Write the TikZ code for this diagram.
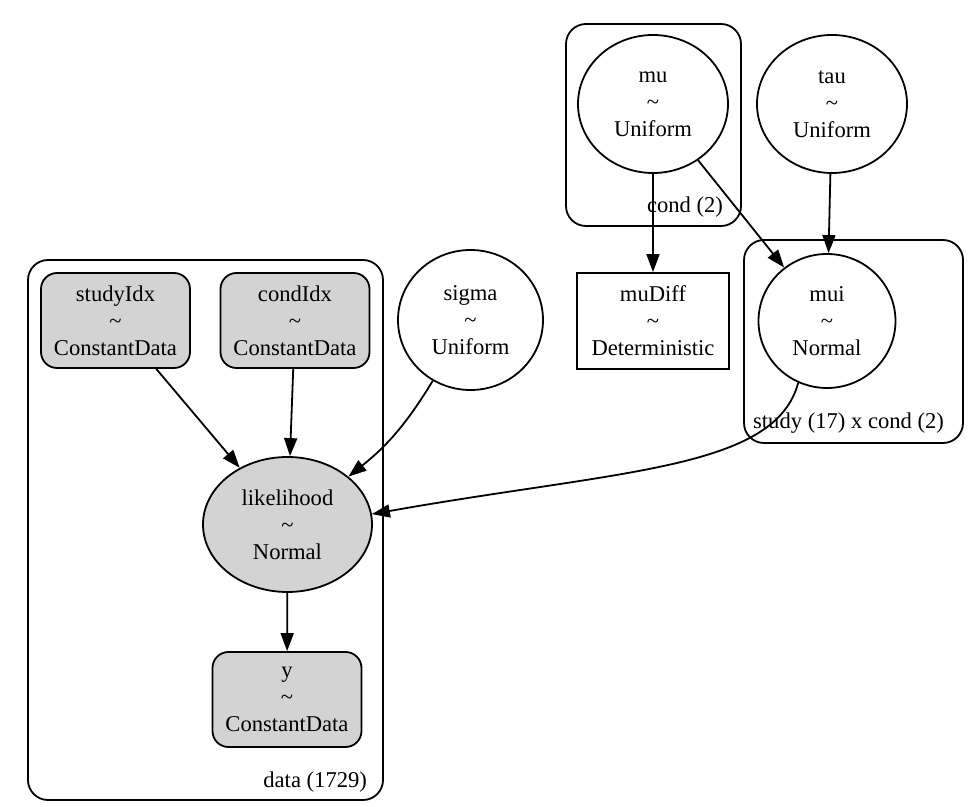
\documentclass[tikz,border=0pt]{standalone}
\usepackage{fontspec}
\setmainfont{Liberation Serif}
\usetikzlibrary{arrows.meta,shapes.geometric}
\definecolor{lgray}{HTML}{D3D3D3}

\begin{document}
\begin{tikzpicture}[x=0.5pt,y=0.5pt,
  font=\fontsize{11.3pt}{13.5pt}\selectfont,
  rv/.style={draw,ellipse,line width=0.9pt,inner sep=0pt,align=center},
  obs/.style={draw,rounded corners=8pt,fill=lgray,line width=0.9pt,inner sep=0pt,
    minimum width=74.5pt,minimum height=47.5pt,align=center},
  plate/.style={draw,rounded corners=10pt,line width=0.9pt},
  edge/.style={-{Triangle[length=9pt,width=6.5pt]},line width=0.9pt}]
  \useasboundingbox (0,0) rectangle (976,-807);

  % plates
  \draw[plate] (28,-260) rectangle (383,-800);
  \node[anchor=east] (datalbl) at (374,-782) {data (1729)};
  \draw[plate] (566,-24) rectangle (741,-226);
  \node[anchor=east] (condlbl) at (730,-207) {cond (2)};
  \draw[plate] (744,-240) rectangle (963,-443);
  \node[anchor=east] (studylbl) at (951,-423) {study (17) x cond (2)};

  % variables
  \node[obs] (studyIdx) at (115.5,-320.5) {studyIdx\\\textasciitilde\\ConstantData};
  \node[obs] (condIdx) at (295,-320.5) {condIdx\\\textasciitilde\\ConstantData};
  \node[rv,minimum width=72.5pt,minimum height=70pt] (sigma) at (470.5,-320) {sigma\\\textasciitilde\\Uniform};
  \node[rv,minimum width=75pt,minimum height=69pt] (mu) at (653,-104) {mu\\\textasciitilde\\Uniform};
  \node[rv,minimum width=75pt,minimum height=69pt] (tau) at (832,-104) {tau\\\textasciitilde\\Uniform};
  \node[draw,line width=0.9pt,inner sep=0pt,minimum width=76pt,minimum height=48pt,align=center]
    (muDiff) at (653,-321) {muDiff\\\textasciitilde\\Deterministic};
  \node[rv,minimum width=68.5pt,minimum height=67pt] (mui) at (827,-321) {mui\\\textasciitilde\\Normal};
  \node[rv,fill=lgray,minimum width=84.5pt,minimum height=67.5pt] (likelihood) at (287.5,-524.5) {likelihood\\\textasciitilde\\Normal};
  \node[obs] (y) at (287,-699.5) {y\\\textasciitilde\\ConstantData};

  % edges
  \draw[edge] (mu) -- (muDiff);
  \draw[edge] (mu) -- (mui);
  \draw[edge] (tau) -- (mui);
  \draw[edge] (studyIdx) -- (likelihood);
  \draw[edge] (condIdx) -- (likelihood);
  \draw[edge] (sigma) to[bend left=10] (likelihood);
  \draw[edge] (mui.245) .. controls (775,-470) and (620,-470) .. (likelihood.7);
  \draw[edge] (likelihood) -- (y);
\end{tikzpicture}
\end{document}
